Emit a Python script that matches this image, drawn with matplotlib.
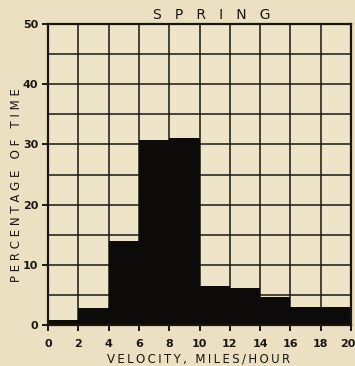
import matplotlib
matplotlib.use("Agg")
import matplotlib.pyplot as plt
import matplotlib.transforms as mtransforms
import numpy as np

# Wind velocity distribution, spring
bin_edges = [0, 2, 4, 6, 8, 10, 12, 14, 16, 18, 20]
percent_time = [0.8, 2.8, 14.0, 30.8, 31.1, 6.5, 6.2, 4.6, 3.0, 3.0]
x_ticks = [0, 2, 4, 6, 8, 10, 12, 14, 16, 18, 20]
y_ticks = [0, 10, 20, 30, 40, 50]

paper = "#ebe1c2"
ink = "#1a1712"

plt.rcParams["font.family"] = ["DejaVu Sans"]

fig = plt.figure(figsize=(3.55, 3.66), dpi=100, facecolor=paper)
ax = fig.add_axes([48 / 355, 1 - 325 / 366, (351 - 48) / 355, (325 - 24) / 366])
ax.set_facecolor("#eee5c9")

lefts = np.array(bin_edges[:-1])
widths = np.diff(bin_edges)
ax.bar(lefts, percent_time, width=widths, align="edge", color="#0c0b09",
       edgecolor="none", zorder=3)

ax.set_xlim(0, 20)
ax.set_ylim(0, 50)

# grid: every 2 mph and every 5 percent
for gx in np.arange(0, 21, 2):
    ax.axvline(gx, color=ink, lw=1.1, zorder=2)
for gy in np.arange(0, 51, 5):
    ax.axhline(gy, color=ink, lw=1.1, zorder=2)

for s in ax.spines.values():
    s.set_color(ink)
    s.set_linewidth(1.6)
    s.set_zorder(4)

ax.set_xticks(x_ticks)
ax.set_yticks(y_ticks)
ax.tick_params(axis="both", colors=ink, labelsize=8, length=4, width=1.4,
               direction="out", pad=3)
ax.tick_params(axis="x", pad=6)
for lab in ax.get_xticklabels() + ax.get_yticklabels():
    lab.set_fontweight("bold")
# keep the last velocity label inside the sheet
last = ax.get_xticklabels()[-1]
last.set_transform(last.get_transform() +
                   mtransforms.ScaledTranslation(-3 / 100, 0, fig.dpi_scale_trans))

spaced = lambda s, gap: gap.join(s)

fig.text(212 / 355, 1 - 15 / 366, "S   P   R   I   N   G", ha="center",
         va="center", fontsize=10, color=ink)
fig.text(199 / 355, 1 - 359 / 366, spaced("VELOCITY, MILES/HOUR", "\u2009"),
         ha="center", va="center", fontsize=8.5, color=ink)
fig.text(17 / 355, 1 - 185 / 366, "P E R C E N T A G E   O F   T I M E",
         ha="center", va="center", rotation=90, fontsize=8.5, color=ink)

fig.savefig("out.png", dpi=100, facecolor=paper)
